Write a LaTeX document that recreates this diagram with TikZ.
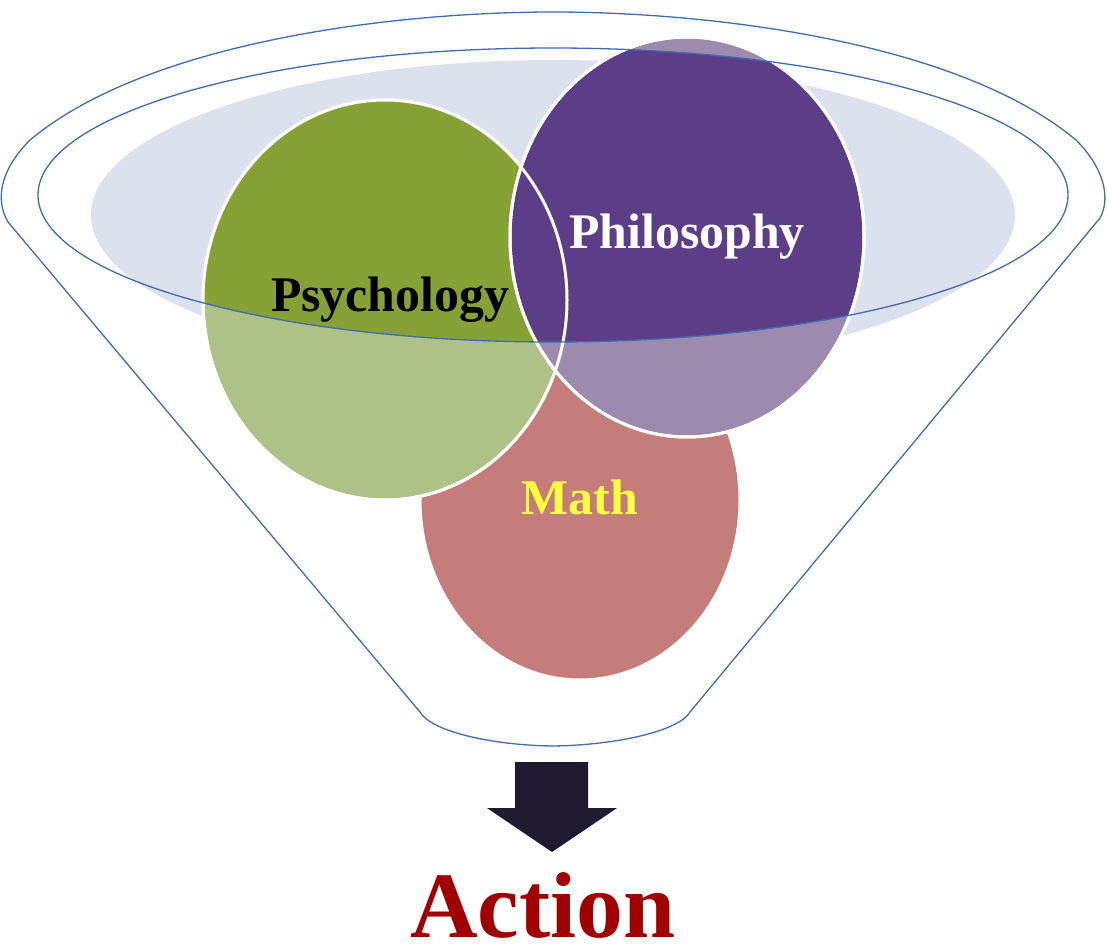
\documentclass[tikz,border=0pt]{standalone}
\usepackage{fontspec}
\setmainfont{Liberation Serif}
\begin{document}
\begin{tikzpicture}[x=1bp,y=-1bp,
  fun/.style={draw=fn, line width=1.3bp},
  circ/.style={draw=white, line width=3bp},
  lab/.style={font=\bfseries\fontsize{50}{54}\selectfont}]
\useasboundingbox (0,0) rectangle (1107,948);
\definecolor{gr}{HTML}{86A236}\definecolor{grl}{HTML}{AEC287}
\definecolor{pu}{HTML}{5C3D87}\definecolor{pul}{HTML}{9C8AAF}
\definecolor{ma}{HTML}{C47D7A}\definecolor{bl}{HTML}{DCE1EE}
\definecolor{ar}{HTML}{1F1A30}\definecolor{rd}{HTML}{A00000}
\definecolor{fn}{HTML}{3D6DB0}
% light ellipse
\fill[bl] (553,215) ellipse [x radius=462, y radius=155];
% circles (faded)
\filldraw[circ, fill=ma] (580,500) ellipse [x radius=160, y radius=180];
\filldraw[circ, fill=grl] (385,300) ellipse [x radius=182, y radius=200];
\filldraw[circ, fill=pul] (687,237) ellipse [x radius=177, y radius=200];
% solid parts inside inner ellipse
\begin{scope}
\clip (553,195) ellipse [x radius=515, y radius=147];
\fill[gr] (385,300) ellipse [x radius=182, y radius=200];
\filldraw[circ, fill=pu] (687,237) ellipse [x radius=177, y radius=200];
\end{scope}
\draw[circ] (385,300) ellipse [x radius=182, y radius=200];
\draw[circ] (687,237) ellipse [x radius=177, y radius=200];
% funnel
\draw[fun] (553,195) ellipse [x radius=515, y radius=147];
\coordinate (tl) at (8,222);
\coordinate (tr) at (1100,218);
\coordinate (bl) at (420,712);
\coordinate (br) at (690,712);
\draw[fun] (tl) .. controls (-5,200) and (0,170) .. (30,140)
  .. controls (150,40) and (400,12) .. (553,12)
  .. controls (706,12) and (956,40) .. (1076,140)
  .. controls (1106,170) and (1110,200) .. (tr)
  -- (br) .. controls (680,730) and (620,745) .. (553,746)
  .. controls (486,745) and (430,730) .. (bl) -- cycle;
% labels
\node[lab] (psy) at (390,300) {Psychology};
\node[lab, text=white] (phi) at (687,237) {Philosophy};
\node[lab, text={rgb,255:red,255;green,255;blue,64}] (math) at (580,497) {Math};
% arrow
\fill[ar] (515,762) -- (588,762) -- (588,808) -- (617,808) -- (552,852) -- (487,808) -- (515,808) -- cycle;
\node[font=\bfseries\fontsize{94}{100}\selectfont, text=rd] (act) at (543,905) {Action};
\end{tikzpicture}
\end{document}
